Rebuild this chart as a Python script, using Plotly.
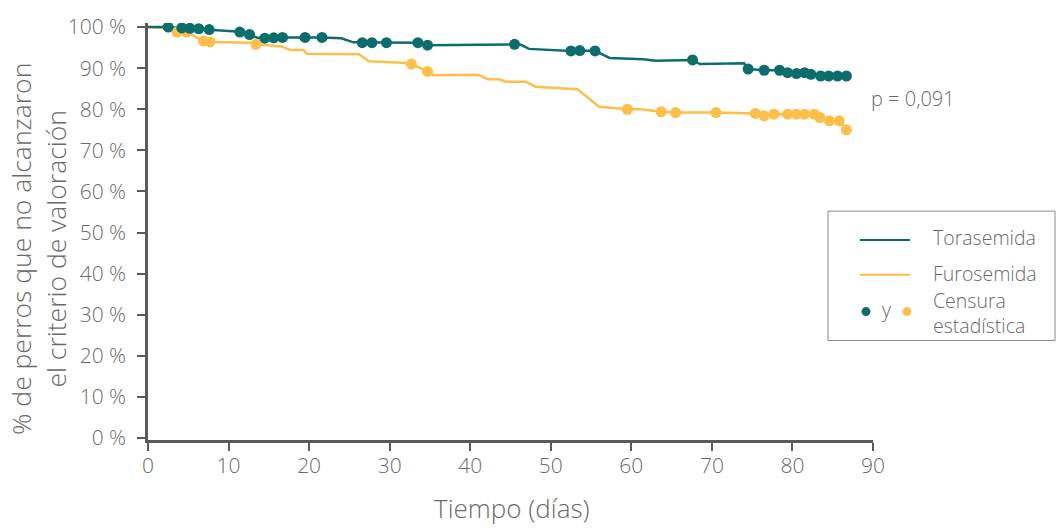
import plotly.graph_objects as go

# Kaplan-Meier style curves: time (days) and % of dogs still free of the endpoint
tora_days = [0, 2.5, 4.2, 5.2, 6.3, 7.6, 10.5, 11.4, 12.6, 13.6, 14.5, 16.7, 21.6, 24.0,
             25.5, 33.5, 34.7, 45.5, 46.3, 47.3, 52.5, 53.6, 55.5, 57.3, 61.5, 63.0,
             67.6, 68.5, 74.0, 74.5, 76.5, 78.4, 79.4, 80.5, 81.5, 82.3, 83.5, 86.7]
tora_pct = [100, 100, 99.8, 99.7, 99.6, 99.4, 99.0, 98.8, 98.2, 97.4, 97.3, 97.5, 97.5, 97.3,
            96.3, 96.2, 95.6, 95.8, 95.7, 94.7, 94.2, 94.3, 94.2, 92.5, 92.2, 91.8,
            92.0, 91.0, 91.2, 89.8, 89.5, 89.5, 88.9, 88.7, 88.9, 88.5, 88.1, 88.1]

furo_days = [0, 2.0, 3.6, 4.8, 6.9, 7.7, 12.8, 13.4, 16.6, 17.7, 19.3, 19.7, 26.2, 27.4,
             31.5, 32.7, 34.7, 35.5, 41.0, 42.2, 43.6, 44.4, 46.9, 48.1, 53.3, 56.0,
             59.5, 61.2, 63.7, 65.5, 70.5, 75.4, 76.5, 77.7, 82.7, 83.4, 84.6, 85.8, 86.7]
furo_pct = [100, 99.8, 98.8, 98.8, 96.6, 96.4, 96.2, 95.8, 95.3, 94.4, 94.4, 93.5, 93.4, 91.7,
            91.3, 91.0, 89.2, 88.3, 88.4, 87.3, 87.3, 86.7, 86.7, 85.5, 84.9, 80.6,
            80.0, 80.0, 79.4, 79.2, 79.2, 79.0, 78.4, 78.8, 78.8, 78.0, 77.2, 77.2, 75.0]

# Censored observations
tora_cens_days = [2.5, 4.2, 5.2, 6.3, 7.6, 11.4, 12.6, 14.5, 15.6, 16.7, 19.5, 21.6, 26.6,
                  27.8, 29.6, 33.5, 34.7, 45.5, 52.5, 53.6, 55.5, 67.6, 74.5, 76.5, 78.4,
                  79.4, 80.5, 81.5, 82.3, 83.5, 84.5, 85.6, 86.7]
tora_cens_pct = [100.0, 99.8, 99.7, 99.6, 99.4, 98.8, 98.2, 97.3, 97.4, 97.5, 97.5, 97.5, 96.2,
                 96.2, 96.2, 96.2, 95.6, 95.8, 94.2, 94.3, 94.2, 92.0, 89.8, 89.5, 89.5,
                 88.9, 88.7, 88.9, 88.5, 88.1, 88.1, 88.1, 88.1]

furo_cens_days = [3.6, 4.8, 6.9, 7.7, 13.4, 32.7, 34.7, 59.5, 63.7, 65.5, 70.5, 75.4, 76.5,
                  77.7, 79.4, 80.5, 81.5, 82.7, 83.4, 84.6, 85.8, 86.7]
furo_cens_pct = [98.8, 98.8, 96.6, 96.4, 95.8, 91.0, 89.2, 80.0, 79.4, 79.2, 79.2, 79.0, 78.4,
                 78.8, 78.8, 78.8, 78.8, 78.8, 78.0, 77.2, 77.2, 75.0]

x_ticks = [0, 10, 20, 30, 40, 50, 60, 70, 80, 90]
y_ticks = [0, 10, 20, 30, 40, 50, 60, 70, 80, 90, 100]
y_tick_labels = [f"{v} %" for v in y_ticks]

TEAL = "#0c6e6c"
ORANGE = "#fdbf47"
TEXT = "#6a6a6a"
AXIS = "#5a5a5a"
FONT = "Open Sans"

fig = go.Figure()
fig.add_trace(go.Scatter(x=furo_days, y=furo_pct, mode="lines",
                         line=dict(color=ORANGE, width=2.5), hoverinfo="skip"))
fig.add_trace(go.Scatter(x=tora_days, y=tora_pct, mode="lines",
                         line=dict(color=TEAL, width=2.5), hoverinfo="skip"))
fig.add_trace(go.Scatter(x=furo_cens_days, y=furo_cens_pct, mode="markers",
                         marker=dict(color=ORANGE, size=11), hoverinfo="skip"))
fig.add_trace(go.Scatter(x=tora_cens_days, y=tora_cens_pct, mode="markers",
                         marker=dict(color=TEAL, size=11), hoverinfo="skip"))

L, R, T, B = 148, 873, 21, 440
W, H = 1056, 528


def px(xp):
    return (xp - L) / (R - L)


def py(yp):
    return (B - yp) / (B - T)


shapes = []
annotations = []

# legend frame
shapes.append(dict(type="rect", xref="paper", yref="paper",
                   x0=px(828), x1=px(1055), y0=py(340), y1=py(210),
                   line=dict(color="#8a8a8a", width=1), fillcolor="white", layer="below"))
# legend line samples
shapes.append(dict(type="line", xref="paper", yref="paper", x0=px(860), x1=px(910),
                   y0=py(239), y1=py(239), line=dict(color=TEAL, width=2)))
shapes.append(dict(type="line", xref="paper", yref="paper", x0=px(860), x1=px(910),
                   y0=py(274), y1=py(274), line=dict(color=ORANGE, width=2)))
# legend dots
for cx, col in [(866, TEAL), (907, ORANGE)]:
    shapes.append(dict(type="circle", xref="paper", yref="paper",
                       xsizemode="pixel", ysizemode="pixel",
                       xanchor=px(cx), yanchor=py(311),
                       x0=-4.5, x1=4.5, y0=-4.5, y1=4.5,
                       fillcolor=col, line=dict(width=0)))

leg_font = dict(family=FONT, size=19.5, color=TEXT, weight=300)
annotations += [
    dict(text="Torasemida", x=px(931), y=py(237), xref="paper", yref="paper",
         xanchor="left", yanchor="middle", showarrow=False, font=leg_font),
    dict(text="Furosemida", x=px(931), y=py(273), xref="paper", yref="paper",
         xanchor="left", yanchor="middle", showarrow=False, font=leg_font),
    dict(text="y", x=px(886), y=py(309), xref="paper", yref="paper",
         xanchor="center", yanchor="middle", showarrow=False, font=leg_font),
    dict(text="Censura<br>estadística", x=px(931), y=py(312), xref="paper", yref="paper",
         xanchor="left", yanchor="middle", showarrow=False, align="left",
         font=dict(family=FONT, size=19.5, color=TEXT, weight=300)),
    dict(text="p = 0,091", x=px(869), y=py(97), xref="paper", yref="paper",
         xanchor="left", yanchor="middle", showarrow=False,
         font=dict(family=FONT, size=20, color=TEXT, weight=300)),
    dict(text="% de perros que no alcanzaron<br>el criterio de valoración",
         x=px(38), y=py(248), xref="paper", yref="paper", textangle=-90,
         xanchor="center", yanchor="middle", showarrow=False,
         font=dict(family=FONT, size=26.5, color=TEXT, weight=300)),
    dict(text="Tiempo (días)", x=px(512), y=py(508), xref="paper", yref="paper",
         xanchor="center", yanchor="middle", showarrow=False,
         font=dict(family=FONT, size=26, color=TEXT, weight=300)),
]

fig.update_layout(
    width=W, height=H,
    margin=dict(l=L, r=W - R, t=T, b=H - B, pad=0),
    paper_bgcolor="white", plot_bgcolor="white",
    showlegend=False,
    shapes=shapes, annotations=annotations,
    xaxis=dict(range=[0, 90], tickvals=x_ticks, showgrid=False, zeroline=False,
               showline=True, linecolor=AXIS, linewidth=2.5,
               ticks="outside", ticklen=8, tickwidth=2, tickcolor=AXIS,
               ticklabelstandoff=-3,
               tickfont=dict(family=FONT, size=21, color=TEXT, weight=300)),
    yaxis=dict(range=[-0.5, 101], tickvals=y_ticks, ticktext=y_tick_labels,
               showgrid=False, zeroline=False,
               showline=True, linecolor=AXIS, linewidth=2.5,
               ticks="outside", ticklen=8, tickwidth=2, tickcolor=AXIS,
               ticklabelstandoff=7,
               tickfont=dict(family=FONT, size=21, color=TEXT, weight=300)),
)

fig.write_html("out.html")
